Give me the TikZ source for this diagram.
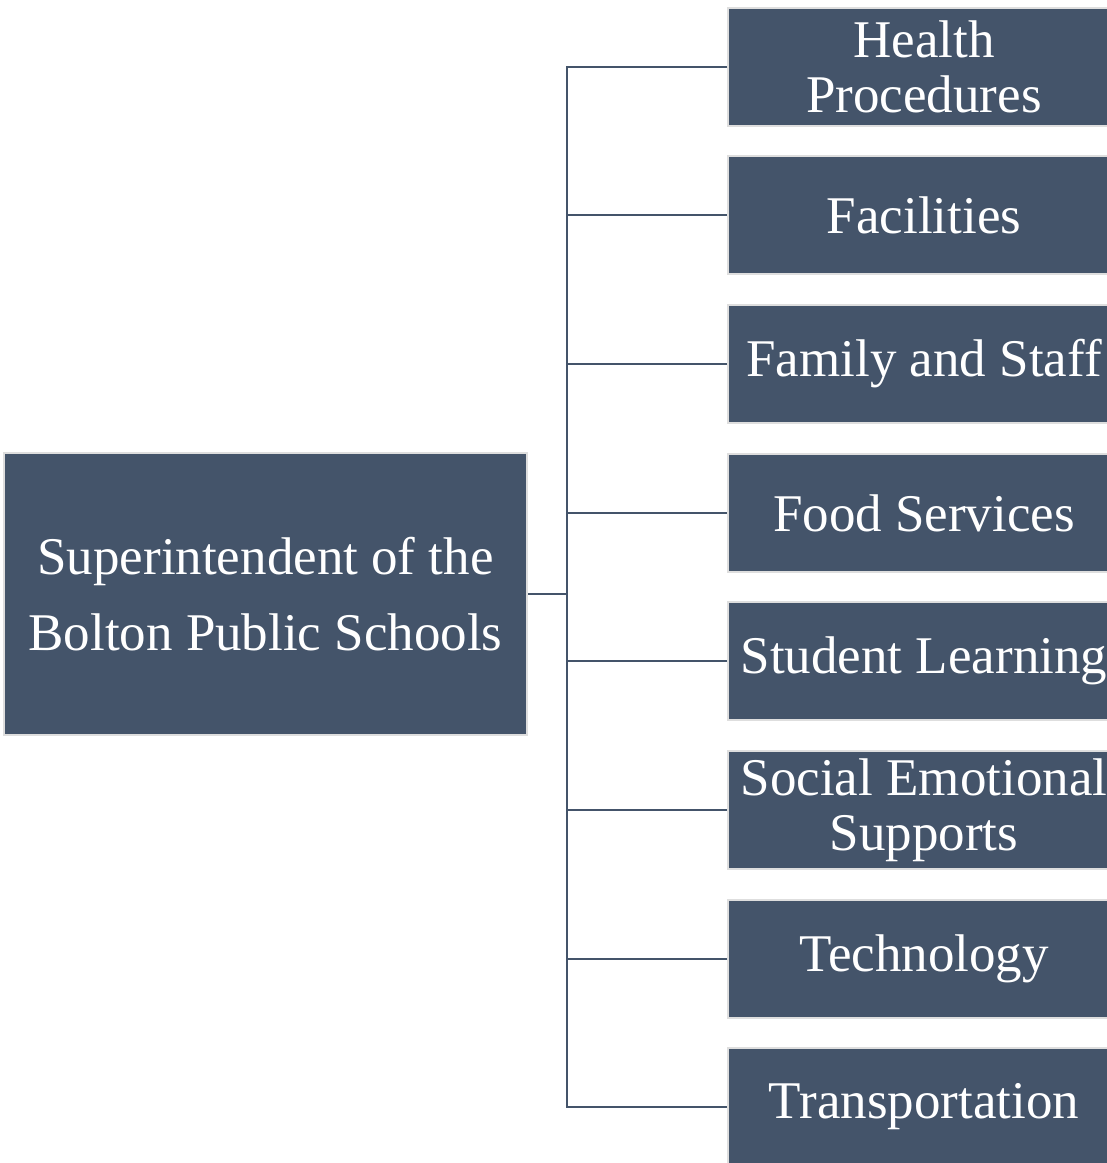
\documentclass[tikz,border=0pt]{standalone}
\usepackage{fontspec}
\setmainfont{Liberation Serif}
\begin{document}
\begin{tikzpicture}[x=1pt,y=-1pt,
  unit/.style={draw=black!13,line width=2pt,fill=slate,text=white,
    font=\fontsize{53}{55}\selectfont,align=center,inner sep=0pt},
  leaf/.style={unit,minimum width=392pt,minimum height=118pt},
  link/.style={draw=slate,line width=2pt}]
\definecolor{slate}{HTML}{44546A}
\useasboundingbox (0,0) rectangle (1107,1163);
\node[unit,minimum width=523pt,minimum height=282pt] (root) at (265.5,594)
  {Superintendent of the\\[21pt]Bolton Public Schools};
\node[leaf] (n1) at (924,67)  {Health\\Procedures};
\node[leaf] (n2) at (924,215) {Facilities};
\node[leaf] (n3) at (924,364) {Family and Staff};
\node[leaf] (n4) at (924,513) {Food Services};
\node[leaf] (n5) at (924,661) {Student Learning};
\node[leaf] (n6) at (924,810) {Social Emotional\\Supports};
\node[leaf] (n7) at (924,959) {Technology};
\node[leaf] (n8) at (924,1107) {Transportation};
\coordinate (bus) at (567,594);
\draw[link] (root.east) -- (bus);
\draw[link] (n1.west) -| (bus) |- (n8.west);
\foreach \k in {2,...,7}{
  \draw[link] (n\k.west) -- (bus |- n\k.west);
}
\end{tikzpicture}
\end{document}
